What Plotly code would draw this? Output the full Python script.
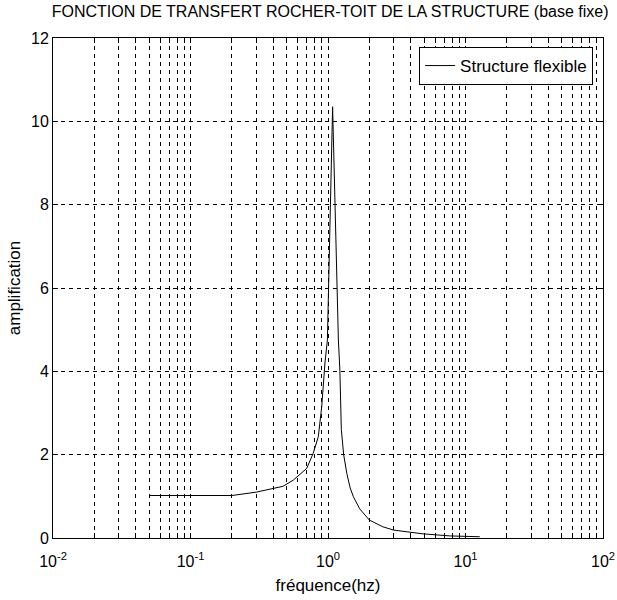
import plotly.graph_objects as go

# Rock-to-roof transfer function of the fixed-base structure
freq_hz = [0.05, 0.2, 0.3, 0.4, 0.47, 0.56, 0.7, 0.78, 0.85, 0.9, 0.95, 0.99,
           1.08, 1.19, 1.22, 1.25, 1.3, 1.37, 1.45, 1.53, 1.7, 2.0, 2.5, 3.0,
           4.0, 4.9, 7.7, 10.0, 12.7]
amplification = [1.02, 1.02, 1.1, 1.18, 1.24, 1.39, 1.67, 2.03, 2.43, 3.15, 4.2, 4.75,
                 10.35, 4.75, 4.03, 2.6, 2.0, 1.55, 1.2, 0.99, 0.7, 0.43, 0.27, 0.19,
                 0.13, 0.10, 0.05, 0.04, 0.03]

decades = [-2, -1, 0, 1, 2]
y_ticks = [0, 2, 4, 6, 8, 10, 12]

# every 1..9 multiple inside each decade carries a grid line; only decades get a label
x_tickvals = []
x_ticktext = []
for d in decades:
    for m in range(1, 10):
        if d == decades[-1] and m > 1:
            break
        x_tickvals.append(m * 10.0 ** d)
        x_ticktext.append(f"10<sup>{d}</sup>" if m == 1 else "")

FONT = "Liberation Sans, Arial, sans-serif"

fig = go.Figure()
fig.add_trace(go.Scatter(
    x=freq_hz, y=amplification, mode="lines",
    name="Structure flexible",
    line=dict(color="black", width=1),
))

fig.update_layout(
    width=617, height=600,
    margin=dict(l=53, r=14, t=38, b=62, autoexpand=False),
    paper_bgcolor="white", plot_bgcolor="white",
    font=dict(family=FONT, size=16, color="black"),
    title=dict(
        text="FONCTION DE TRANSFERT ROCHER-TOIT DE LA STRUCTURE (base fixe)",
        x=0.535, xanchor="center", y=0.99, yanchor="top",
        font=dict(family=FONT, size=16, color="black"),
    ),
    showlegend=True,
    legend=dict(
        x=0.982, y=0.982, xanchor="right", yanchor="top",
        bgcolor="white", bordercolor="black", borderwidth=1,
        font=dict(family=FONT, size=17, color="black"),
    ),
)

fig.update_xaxes(
    type="log", range=[-2, 2], automargin=False,
    tickmode="array", tickvals=x_tickvals, ticktext=x_ticktext,
    ticks="inside", ticklen=5, tickcolor="black",
    ticklabelstandoff=9,
    showgrid=True, gridcolor="black", gridwidth=1, griddash="4px,4px",
    showline=True, linecolor="black", linewidth=1, mirror="ticks",
    zeroline=False,
    title=dict(text="fréquence(hz)", font=dict(family=FONT, size=17), standoff=9),
    tickfont=dict(family=FONT, size=16),
)
fig.update_yaxes(
    range=[0, 12], automargin=False,
    tickmode="array", tickvals=y_ticks, ticktext=[str(v) for v in y_ticks],
    ticks="inside", ticklen=5, tickcolor="black",
    showgrid=True, gridcolor="black", gridwidth=1, griddash="4px,4px",
    showline=True, linecolor="black", linewidth=1, mirror="ticks",
    zeroline=False,
    title=dict(text="amplification", font=dict(family=FONT, size=17), standoff=6),
    tickfont=dict(family=FONT, size=16),
)

fig.write_html("out.html")
